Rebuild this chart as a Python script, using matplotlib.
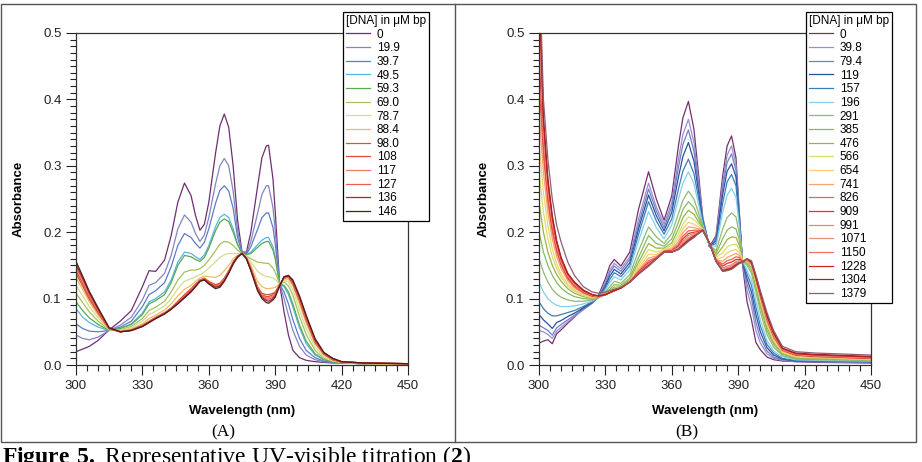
import matplotlib.pyplot as plt
import numpy as np
from matplotlib.patches import Rectangle
from matplotlib.lines import Line2D
from matplotlib.ticker import MultipleLocator, FormatStrFormatter

plt.rcParams['font.family'] = ['Liberation Sans', 'DejaVu Sans']
plt.rcParams['font.size'] = 9
plt.rcParams['mathtext.fontset'] = 'custom'
plt.rcParams['mathtext.rm'] = 'Liberation Serif'
plt.rcParams['mathtext.bf'] = 'Liberation Serif:bold'

W, H = 922, 462

# ---- panel A : [DNA] in uM bp ----
conc_A = ['0', '19.9', '39.7', '49.5', '59.3', '69.0', '78.7', '88.4',
          '98.0', '108', '117', '127', '136', '146']
colors_A = ['#6e2f70', '#8484c4', '#5f7cc4', '#55b6e6', '#5aa850', '#a4c25c',
            '#d8da92', '#f0bc62', '#cc5a34', '#e04a3c', '#f07c6c', '#ea5e50',
            '#a02c2c', '#561a1a']
wl_A = [300, 303, 306, 310, 315, 320, 325, 330, 333, 336, 340, 343, 346, 349,
        352, 354, 356, 358, 360, 363, 365, 367, 369, 371, 373, 375, 377, 379,
        382, 384, 386, 387, 389, 390, 392, 394, 396, 398, 401, 404, 408, 412,
        416, 420, 430, 450]
# one row per wavelength, one column per titration point
abs_A = [
    [.020, .045, .062, .085, .095, .108, .120, .132, .138, .142, .146, .149, .152, .156],
    [.024, .040, .055, .072, .082, .094, .104, .114, .119, .123, .126, .129, .131, .134],
    [.028, .038, .051, .064, .071, .080, .088, .095, .099, .102, .105, .107, .109, .111],
    [.037, .042, .050, .057, .061, .066, .071, .075, .078, .080, .082, .083, .084, .086],
    [.053, .052, .052, .052, .052, .053, .053, .054, .054, .055, .055, .055, .056, .056],
    [.066, .060, .057, .055, .055, .053, .052, .051, .050, .050, .050, .050, .050, .050],
    [.082, .072, .066, .062, .061, .058, .056, .054, .053, .052, .052, .052, .052, .052],
    [.118, .098, .088, .078, .076, .070, .066, .062, .060, .059, .059, .058, .058, .058],
    [.142, .120, .106, .095, .092, .082, .076, .070, .066, .065, .065, .064, .064, .064],
    [.141, .124, .112, .100, .097, .087, .081, .075, .072, .071, .071, .070, .070, .070],
    [.158, .138, .124, .110, .106, .096, .089, .083, .079, .078, .078, .077, .077, .077],
    [.195, .165, .148, .128, .124, .110, .100, .092, .086, .085, .085, .084, .084, .084],
    [.245, .205, .180, .155, .150, .128, .115, .104, .096, .095, .094, .093, .093, .092],
    [.274, .226, .198, .170, .165, .140, .126, .114, .106, .105, .104, .103, .102, .101],
    [.255, .215, .192, .168, .163, .143, .130, .120, .115, .114, .113, .112, .111, .110],
    [.225, .198, .183, .163, .159, .143, .133, .126, .122, .121, .120, .119, .118, .118],
    [.203, .186, .176, .159, .156, .145, .136, .131, .128, .128, .127, .127, .126, .126],
    [.212, .196, .185, .166, .162, .150, .140, .134, .131, .130, .130, .129, .129, .128],
    [.245, .222, .205, .180, .176, .158, .146, .133, .126, .125, .124, .124, .123, .122],
    [.318, .272, .243, .208, .202, .172, .155, .132, .121, .120, .119, .118, .117, .115],
    [.360, .300, .263, .222, .215, .182, .162, .135, .123, .122, .121, .120, .119, .117],
    [.378, .311, .270, .227, .220, .186, .166, .142, .131, .130, .129, .128, .127, .126],
    [.358, .300, .262, .222, .216, .185, .168, .150, .142, .141, .140, .140, .139, .138],
    [.300, .262, .236, .205, .200, .180, .168, .160, .155, .155, .154, .154, .153, .152],
    [.218, .202, .192, .182, .181, .173, .168, .165, .164, .164, .163, .163, .163, .162],
    [.170, .169, .169, .168, .168, .168, .168, .168, .168, .168, .168, .168, .168, .168],
    [.170, .168, .167, .166, .166, .164, .163, .162, .161, .161, .161, .160, .160, .160],
    [.200, .186, .178, .170, .168, .160, .155, .150, .146, .145, .145, .144, .143, .142],
    [.268, .228, .204, .181, .177, .155, .141, .126, .118, .117, .116, .115, .114, .112],
    [.312, .257, .222, .188, .183, .154, .136, .118, .108, .106, .105, .104, .102, .100],
    [.330, .270, .229, .192, .186, .153, .133, .115, .106, .103, .101, .099, .097, .094],
    [.331, .270, .229, .192, .186, .153, .133, .115, .106, .103, .101, .099, .096, .093],
    [.280, .237, .207, .178, .173, .146, .131, .116, .108, .106, .104, .102, .100, .098],
    [.232, .203, .183, .163, .160, .140, .129, .117, .110, .109, .107, .105, .104, .102],
    [.122, .122, .122, .122, .122, .122, .122, .122, .121, .121, .120, .120, .119, .119],
    [.080, .100, .110, .118, .120, .125, .128, .130, .131, .131, .132, .132, .133, .133],
    [.045, .075, .092, .106, .110, .119, .125, .129, .132, .133, .133, .134, .134, .135],
    [.022, .052, .068, .087, .092, .105, .113, .119, .122, .123, .124, .125, .126, .128],
    [.011, .028, .040, .056, .060, .073, .083, .092, .096, .098, .099, .101, .102, .104],
    [.007, .015, .022, .032, .036, .046, .055, .063, .067, .069, .070, .072, .073, .075],
    [.005, .008, .011, .015, .017, .022, .027, .032, .034, .035, .036, .037, .038, .040],
    [.004, .005, .006, .008, .008, .010, .012, .015, .016, .017, .017, .018, .018, .019],
    [.003, .004, .004, .005, .005, .006, .006, .007, .008, .008, .009, .009, .010, .010],
    [.003, .003, .003, .003, .003, .004, .004, .004, .004, .005, .005, .005, .005, .005],
    [.002, .002, .002, .002, .002, .002, .002, .002, .003, .003, .003, .003, .003, .003],
    [.001, .001, .001, .001, .001, .001, .001, .001, .002, .002, .002, .002, .002, .002],
]

# ---- panel B ----
conc_B = ['0', '39.8', '79.4', '119', '157', '196', '291', '385', '476', '566',
          '654', '741', '826', '909', '991', '1071', '1150', '1228', '1304', '1379']
colors_B = ['#74306f', '#9a8fcc', '#6f80c8', '#2f4f9e', '#3a80b6', '#84d0ea',
            '#92b872', '#7fbf5e', '#a2b042', '#d6e070', '#f6d070', '#f6a272',
            '#ee6444', '#e03232', '#f08272', '#e8927e', '#e87272', '#d02424',
            '#a82020', '#8e5e70']
wl_B = [300, 302, 304, 306, 308, 310, 313, 316, 320, 324, 327, 330, 332, 334,
        337, 341, 345, 349.5, 353, 356.5, 360, 363, 365, 367.5, 370, 372, 374,
        377, 380, 383, 385, 387, 389, 390.5, 392, 394, 396, 398, 400, 403, 406,
        410, 416, 425, 450]
abs_B = [
    [.033, .052, .060, .076, .095, .125, .160, .200, .245, .290, .335, .380, .425, .470, .510, .540, .560, .580, .600, .620],
    [.036, .050, .056, .068, .085, .110, .140, .170, .200, .230, .260, .290, .315, .335, .345, .355, .362, .368, .374, .400],
    [.038, .046, .052, .062, .078, .100, .125, .150, .170, .190, .210, .230, .245, .255, .262, .268, .273, .277, .281, .310],
    [.032, .040, .045, .055, .074, .094, .114, .135, .150, .163, .175, .190, .200, .207, .212, .216, .219, .222, .225, .250],
    [.047, .051, .056, .064, .074, .090, .107, .124, .136, .145, .152, .163, .170, .175, .178, .181, .183, .185, .187, .210],
    [.053, .057, .061, .067, .076, .088, .102, .116, .126, .132, .137, .145, .150, .153, .155, .157, .159, .160, .162, .185],
    [.063, .065, .068, .073, .079, .088, .098, .108, .115, .119, .122, .127, .130, .132, .134, .135, .136, .137, .138, .155],
    [.072, .073, .075, .078, .082, .089, .096, .103, .108, .111, .113, .116, .118, .120, .121, .122, .123, .124, .125, .135],
    [.086, .083, .084, .086, .088, .092, .096, .100, .103, .105, .106, .108, .109, .110, .111, .111, .112, .112, .113, .118],
    [.096, .093, .093, .094, .095, .096, .098, .099, .100, .101, .102, .103, .104, .104, .105, .105, .105, .106, .106, .110],
    [.106, .104, .103, .102, .102, .102, .102, .102, .102, .102, .102, .102, .102, .103, .103, .103, .104, .104, .104, .108],
    [.130, .125, .122, .119, .116, .113, .110, .108, .107, .106, .106, .106, .106, .106, .106, .106, .106, .106, .106, .110],
    [.150, .143, .139, .134, .129, .124, .118, .114, .112, .110, .109, .109, .109, .109, .109, .109, .109, .109, .109, .112],
    [.159, .153, .149, .144, .139, .133, .126, .121, .117, .115, .114, .113, .112, .112, .112, .112, .112, .112, .112, .114],
    [.149, .145, .141, .137, .133, .128, .123, .120, .118, .117, .116, .116, .116, .116, .116, .116, .116, .116, .116, .117],
    [.170, .163, .159, .154, .149, .143, .136, .131, .128, .126, .125, .125, .125, .125, .125, .125, .125, .125, .125, .125],
    [.235, .220, .212, .205, .197, .187, .172, .162, .155, .150, .146, .143, .141, .140, .139, .138, .138, .138, .137, .137],
    [.291, .274, .265, .256, .246, .231, .208, .195, .183, .174, .167, .161, .157, .154, .152, .151, .150, .150, .149, .149],
    [.250, .238, .232, .225, .217, .207, .193, .183, .176, .170, .166, .164, .162, .161, .160, .160, .160, .160, .160, .160],
    [.218, .212, .207, .202, .197, .190, .183, .179, .176, .174, .173, .172, .171, .171, .170, .170, .170, .170, .170, .170],
    [.255, .245, .238, .230, .220, .211, .198, .190, .184, .180, .177, .175, .173, .172, .171, .171, .170, .170, .170, .170],
    [.330, .310, .298, .283, .265, .250, .228, .215, .205, .197, .191, .186, .182, .179, .177, .176, .175, .174, .174, .174],
    [.372, .347, .332, .314, .292, .274, .248, .234, .222, .212, .205, .199, .194, .190, .187, .185, .183, .181, .180, .179],
    [.397, .370, .354, .335, .310, .291, .262, .246, .233, .223, .215, .208, .202, .198, .195, .192, .190, .188, .187, .186],
    [.355, .335, .322, .307, .288, .273, .250, .237, .227, .219, .212, .207, .203, .200, .198, .196, .195, .194, .193, .192],
    [.290, .280, .272, .263, .253, .243, .230, .222, .216, .212, .208, .205, .203, .201, .200, .199, .199, .198, .198, .198],
    [.222, .220, .218, .216, .214, .212, .209, .207, .206, .205, .204, .204, .203, .203, .203, .203, .203, .203, .203, .202],
    [.178, .178, .178, .179, .179, .180, .181, .182, .182, .183, .183, .183, .184, .184, .184, .184, .184, .184, .184, .184],
    [.195, .192, .190, .187, .183, .179, .172, .168, .165, .162, .160, .159, .158, .157, .157, .156, .156, .156, .156, .156],
    [.285, .275, .267, .257, .244, .230, .205, .190, .178, .169, .162, .156, .152, .149, .146, .144, .143, .142, .141, .141],
    [.330, .316, .305, .292, .276, .256, .222, .203, .189, .178, .169, .162, .157, .153, .149, .147, .145, .144, .143, .142],
    [.345, .330, .318, .303, .287, .266, .229, .208, .193, .181, .172, .165, .159, .155, .151, .149, .147, .146, .145, .144],
    [.312, .302, .293, .283, .270, .253, .223, .205, .192, .182, .174, .168, .163, .159, .156, .154, .152, .151, .150, .149],
    [.230, .228, .225, .221, .216, .210, .198, .188, .180, .174, .169, .165, .162, .159, .157, .156, .155, .154, .153, .153],
    [.150, .152, .153, .154, .155, .156, .157, .157, .157, .157, .156, .156, .156, .156, .155, .155, .155, .155, .155, .155],
    [.095, .112, .122, .130, .137, .143, .150, .153, .155, .157, .158, .158, .159, .159, .159, .159, .160, .160, .160, .160],
    [.068, .088, .100, .110, .120, .128, .138, .143, .147, .149, .150, .151, .152, .153, .153, .154, .154, .155, .155, .157],
    [.034, .052, .064, .076, .087, .097, .110, .117, .121, .124, .126, .128, .129, .130, .131, .131, .132, .132, .133, .136],
    [.023, .033, .041, .050, .059, .068, .080, .088, .093, .097, .100, .102, .104, .105, .106, .107, .108, .108, .109, .112],
    [.012, .017, .021, .026, .031, .037, .046, .052, .057, .061, .064, .066, .068, .070, .071, .072, .073, .074, .075, .079],
    [.008, .010, .012, .015, .018, .021, .027, .031, .034, .037, .039, .041, .043, .044, .045, .046, .047, .048, .049, .052],
    [.006, .007, .008, .009, .010, .012, .014, .016, .018, .019, .020, .021, .022, .023, .023, .024, .024, .025, .025, .028],
    [.005, .005, .006, .006, .007, .008, .009, .010, .011, .012, .013, .014, .015, .015, .016, .016, .017, .017, .018, .020],
    [.004, .005, .005, .006, .006, .007, .008, .009, .010, .011, .012, .012, .013, .013, .014, .014, .015, .015, .016, .018],
    [.003, .004, .004, .005, .005, .006, .007, .007, .008, .008, .009, .009, .010, .010, .011, .011, .012, .012, .013, .015],
]

fig = plt.figure(figsize=(W / 100, H / 100), dpi=100)


def panel(left, wl, absorb, conc, colors, leg_x, ylab_x):
    ax = fig.add_axes([left / W, 1 - 365 / H, 332 / W, 332 / H])
    absorb = np.array(absorb)
    for i in range(len(conc)):
        ax.plot(wl, absorb[:, i], color=colors[i], lw=0.9, label=conc[i])
    ax.set_xlim(300, 450)
    ax.set_ylim(0, 0.5)
    ax.xaxis.set_major_locator(MultipleLocator(30))
    ax.xaxis.set_minor_locator(MultipleLocator(5))
    ax.yaxis.set_major_locator(MultipleLocator(0.1))
    ax.yaxis.set_minor_locator(MultipleLocator(0.01))
    ax.yaxis.set_major_formatter(FormatStrFormatter('%.1f'))
    ax.tick_params(which='both', direction='out', width=0.8, labelsize=9.5, colors='#222222')
    ax.tick_params(which='major', length=7)
    ax.tick_params(which='minor', length=4)
    for s in ax.spines.values():
        s.set_linewidth(0.9)
        s.set_color('#333333')
    ax.set_xlabel('Wavelength (nm)', fontweight='bold', fontsize=9.5)
    ax.set_ylabel('Absorbance', fontweight='bold', fontsize=9.5)
    ax.xaxis.set_label_coords(0.5, -0.12)
    ax.yaxis.set_label_coords(ylab_x, 0.5)
    leg = ax.legend(title='[DNA] in μM bp', loc='upper left',
                    bbox_to_anchor=(leg_x / W, 1 - 12 / H), bbox_transform=fig.transFigure,
                    borderaxespad=0, fontsize=8.5, title_fontsize=8.5, alignment='left',
                    frameon=True, fancybox=False, framealpha=1, edgecolor='black',
                    labelspacing=0.14, handlelength=2.0, handletextpad=0.6,
                    borderpad=0.25)
    leg.get_frame().set_linewidth(0.9)
    return ax


panel(76, wl_A, abs_A, conc_A, colors_A, 343, -0.155)
panel(539, wl_B, abs_B, conc_B, colors_B, 806, -0.15)

# outer frame of the figure
fig.add_artist(Rectangle((0.5 / W, 1 - 442 / H), 915.5 / W, 438 / H, transform=fig.transFigure,
                         fill=False, edgecolor='#555555', lw=1))
fig.add_artist(Line2D([455 / W, 455 / W], [1 - 442 / H, 1 - 4 / H], transform=fig.transFigure,
                      color='#555555', lw=1))

fig.text(223 / W, 1 - 432 / H, '(A)', family='Liberation Serif', fontsize=12.5, ha='center', va='center')
fig.text(687 / W, 1 - 432 / H, '(B)', family='Liberation Serif', fontsize=12.5, ha='center', va='center')
fig.text(2 / W, 1 - 463 / H, r'$\mathbf{Figure\ 5.}$ Representative UV-visible titration ($\mathbf{2}$)',
         family='Liberation Serif', fontsize=17, ha='left', va='baseline')

plt.savefig('out.png', dpi=100)
